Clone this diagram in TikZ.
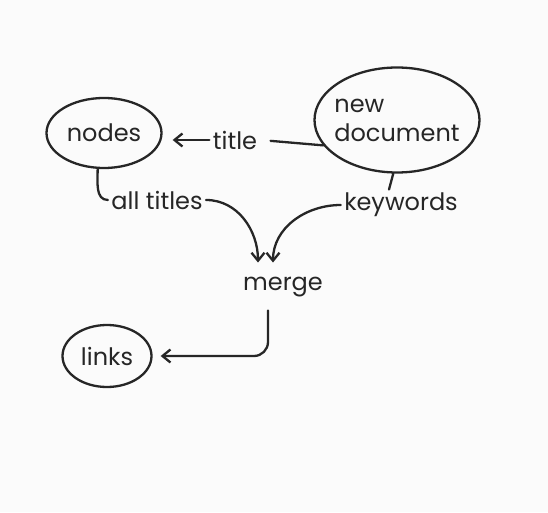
\documentclass[tikz,border=0pt]{standalone}
\usepackage{fontspec}
\setmainfont{Poppins}
\usepackage{tikz}
\usetikzlibrary{arrows.meta,shapes.geometric}
\usepackage{xcolor}
\definecolor{pencil}{HTML}{262626}

\begin{document}
\begin{tikzpicture}[
  x=1pt, y=1pt,
  font=\fontsize{24}{29}\selectfont,
  every node/.style={text=pencil},
  pen/.style={draw=pencil, line width=2.3pt, line cap=round, line join=round},
  blob/.style={pen, ellipse, align=left, inner sep=0pt},
  arr/.style={pen, -{Straight Barb[length=8pt, width=13pt, line width=2.3pt]}}
]
\useasboundingbox[fill=gray!3] (0,0) rectangle (548,512);
\node[blob, minimum width=115pt, minimum height=70pt] (nodes) at (104,379) {nodes};
\node[blob, minimum width=165pt, minimum height=105pt, inner sep=-8pt] (newdoc) at (397,392) {new\\document};
\node (title) at (235,372) {title};
\node (alltitles) at (157,312) {all titles};
\node (keywords) at (401,307) {keywords};
\node (merge) at (283,225) {merge};
\node[blob, minimum width=89pt, minimum height=62pt] (links) at (107,156) {links};
\draw[arr, shorten >=10pt] (title.west) -- (title.west -| nodes.east);
\draw[pen, shorten <=10pt] (title.east) -- (newdoc.199);
\draw[pen] (nodes.260) to[out=-90, in=180] (alltitles.west);
\draw[arr] (alltitles.east) to[out=0, in=90] ([xshift=-25pt, yshift=11pt]merge.north);
\draw[pen] (newdoc.266) -- ([xshift=-12pt]keywords.north);
\draw[arr] (keywords.west) to[out=180, in=90] ([xshift=-10pt, yshift=11pt]merge.north);
\draw[arr, rounded corners=14pt, shorten <=10pt, shorten >=8pt] ([xshift=-15pt]merge.south) |- (links.east);
\end{tikzpicture}
\end{document}
